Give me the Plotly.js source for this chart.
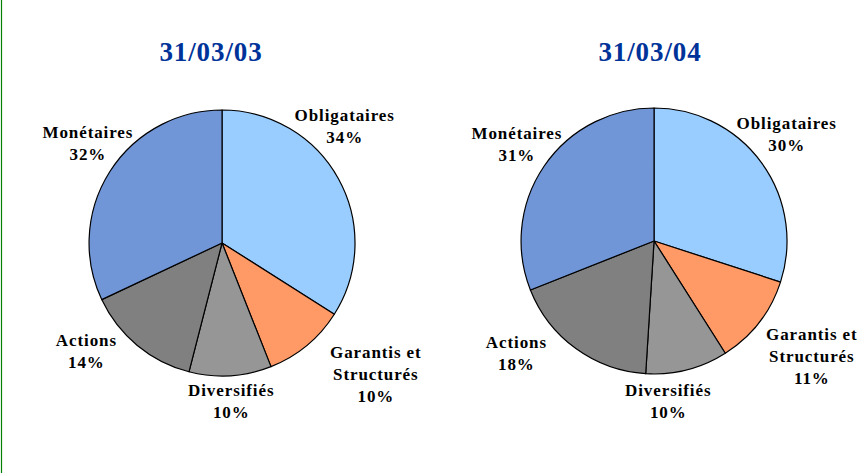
<!DOCTYPE html>
<html>
<head>
<meta charset="utf-8">
<script src="https://cdn.plot.ly/plotly-3.0.1.min.js"></script>
<style>
html,body{margin:0;padding:0;background:#fff;}
#chart{width:868px;height:473px;}
#chart .annotation-text{letter-spacing:0.9px;}
</style>
</head>
<body>
<div id="chart"></div>
<script>
var categories = ['Obligataires', 'Garantis et Structurés', 'Diversifiés', 'Actions', 'Monétaires'];
var titles = ['31/03/03', '31/03/04'];
var values2003 = [34, 10, 10, 14, 32];
var values2004 = [30, 11, 10, 18, 31];
var colors = ['#99CCFF', '#FF9966', '#969696', '#808080', '#7096D8'];

var serif = 'Liberation Serif, Times New Roman, serif';

function pieTrace(vals, dom) {
  return {
    type: 'pie',
    values: vals,
    labels: categories,
    sort: false,
    direction: 'clockwise',
    rotation: 0,
    textinfo: 'none',
    hoverinfo: 'label+percent',
    marker: {colors: colors, line: {color: '#000', width: 1.2}},
    domain: dom,
    showlegend: false
  };
}

var data = [
  pieTrace(values2003, {x: [0.1026, 0.4090], y: [0.2051, 0.7675]}),
  pieTrace(values2004, {x: [0.6003, 0.9067], y: [0.2093, 0.7717]})
];

// label anchor positions (pixels) for each pie, per category
var labelPos = [
  [[345, 126], [376, 374], [231, 401], [86, 351], [88, 143]],
  [[787, 134], [812, 356], [668, 401], [516, 353], [517, 144]]
];
var titlePos = [[211, 52], [650, 52]];

function fmt(label) { return label.replace(' et ', ' et<br>'); }

var annotations = [];
var series = [values2003, values2004];
for (var p = 0; p < 2; p++) {
  annotations.push({
    text: '<b>' + titles[p] + '</b>',
    x: titlePos[p][0] / 868, y: 1 - titlePos[p][1] / 473,
    xref: 'paper', yref: 'paper', showarrow: false,
    xanchor: 'center', yanchor: 'middle',
    font: {family: serif, size: 27, color: '#003399'}
  });
  for (var i = 0; i < categories.length; i++) {
    annotations.push({
      text: '<b>' + fmt(categories[i]) + '<br>' + series[p][i] + '%</b>',
      x: labelPos[p][i][0] / 868, y: 1 - labelPos[p][i][1] / 473,
      xref: 'paper', yref: 'paper', showarrow: false,
      xanchor: 'center', yanchor: 'middle', align: 'center',
      font: {family: serif, size: 17, color: '#000'}
    });
  }
}

var layout = {
  width: 868, height: 473,
  margin: {l: 0, r: 0, t: 0, b: 0},
  paper_bgcolor: '#fff',
  plot_bgcolor: '#fff',
  annotations: annotations,
  shapes: [{
    type: 'line', xref: 'paper', yref: 'paper',
    x0: 1.5 / 868, x1: 1.5 / 868, y0: 0, y1: 1,
    line: {color: '#008000', width: 1.2}
  }]
};

Plotly.newPlot('chart', data, layout, {displayModeBar: false, staticPlot: true});
</script>
</body>
</html>
